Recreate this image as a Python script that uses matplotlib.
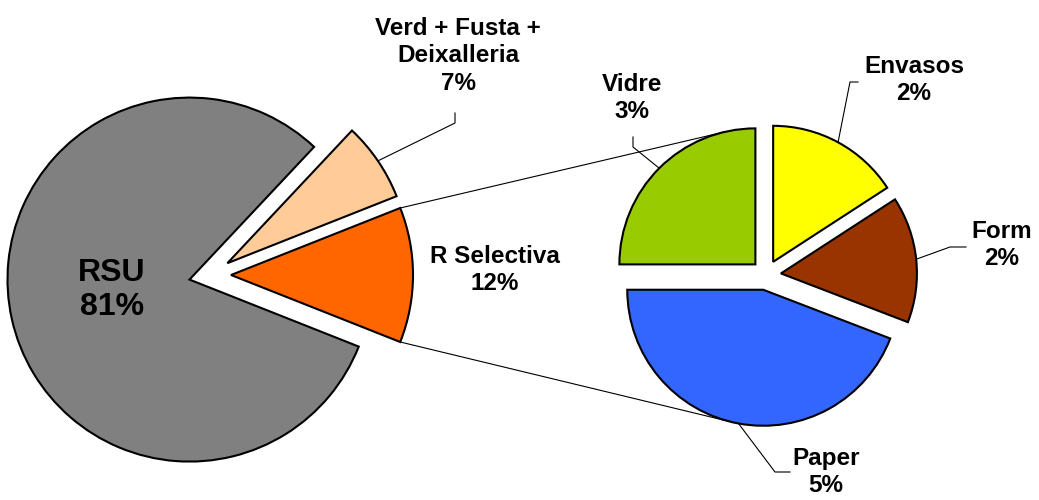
import matplotlib.pyplot as plt
import numpy as np

# Main pie (percent of total)
main_labels = ['R Selectiva', 'Verd + Fusta +\nDeixalleria', 'RSU']
main_values = [12, 7, 81]
main_colors = ['#FF6600', '#FFCC99', '#808080']

# Secondary pie: breakdown of "R Selectiva"
sub_labels = ['Envasos', 'Form', 'Paper', 'Vidre']
sub_values = [1.9, 1.8, 5.3, 3.0]
sub_pct = ['2%', '2%', '5%', '3%']
sub_colors = ['#FFFF00', '#993300', '#3366FF', '#99CC00']

plt.rcParams['font.family'] = ['Liberation Sans', 'DejaVu Sans']

fig = plt.figure(figsize=(10.39, 5), dpi=100)
ax = fig.add_axes([0, 0, 1, 1])

wp = dict(edgecolor='black', linewidth=1.5)

# main pie, the "R Selectiva" slice centred on the right
# (pie's explode is in data units here, i.e. pixels)
start = -main_values[0] / sum(main_values) * 180
w1, _ = ax.pie(main_values, colors=main_colors, startangle=start,
               explode=[21] * 3, center=(210, 225), radius=182,
               wedgeprops=wp)

# secondary pie, clockwise from the top
w2, _ = ax.pie(sub_values, colors=sub_colors, startangle=90,
               counterclock=False, explode=[15] * 4,
               center=(766, 225), radius=136, wedgeprops=wp)

ax.set_xlim(0, 1039)
ax.set_ylim(0, 500)
ax.set_aspect('equal')
ax.axis('off')


def arc_point(w, ang):
    cx, cy = w.center
    return cx + w.r * np.cos(np.radians(ang)), cy + w.r * np.sin(np.radians(ang))


def mid(w):
    return (w.theta1 + w.theta2) / 2


def tangent(p, w, sign):
    cx, cy = w.center
    dx, dy = p[0] - cx, p[1] - cy
    d = np.hypot(dx, dy)
    phi = np.degrees(np.arctan2(dy, dx))
    alpha = np.degrees(np.arccos(w.r / d))
    return arc_point(w, phi + sign * alpha)


# connector lines between the two pies
sel = w1[0]
p_top = arc_point(sel, sel.theta2)
p_bot = arc_point(sel, sel.theta1)
q_top = tangent(p_top, w2[3], -1)
q_bot = tangent(p_bot, w2[2], +1)
ax.plot([p_top[0], q_top[0]], [p_top[1], q_top[1]], color='black', lw=0.8)
ax.plot([p_bot[0], q_bot[0]], [p_bot[1], q_bot[1]], color='black', lw=0.8)

fs = 17.5
tkw = dict(fontsize=fs, fontweight='bold', ha='center', va='center',
           linespacing=1.25)

# main pie labels
ax.text(112, 210, 'RSU\n%d%%' % main_values[2], fontsize=23,
        fontweight='bold', ha='center', va='center', linespacing=1.2)
ax.text(495, 230, '%s\n%d%%' % (main_labels[0], main_values[0]), **tkw)
ax.text(458, 444, '%s\n%d%%' % (main_labels[1], main_values[1]), **tkw)

# leader for Verd label
s = arc_point(w1[1], mid(w1[1]))
ax.plot([s[0], 455, 455], [s[1], 377, 387], color='black', lw=0.8)

# secondary labels and leaders
sub_text_pos = [(914, 420), (1002, 255), (826, 28), (632, 402)]
elbows = [[(850, 418), (858, 418)], [(950, 253), (966, 253)],
          [(775, 28), (790, 28)], [(633, 353), (633, 363)]]
for w, lab, pct, tp, el in zip(w2, sub_labels, sub_pct, sub_text_pos, elbows):
    ax.text(tp[0], tp[1], '%s\n%s' % (lab, pct), **tkw)
    s = arc_point(w, mid(w))
    xs = [s[0]] + [e[0] for e in el]
    ys = [s[1]] + [e[1] for e in el]
    ax.plot(xs, ys, color='black', lw=0.8)

fig.savefig('out.png', dpi=100)
